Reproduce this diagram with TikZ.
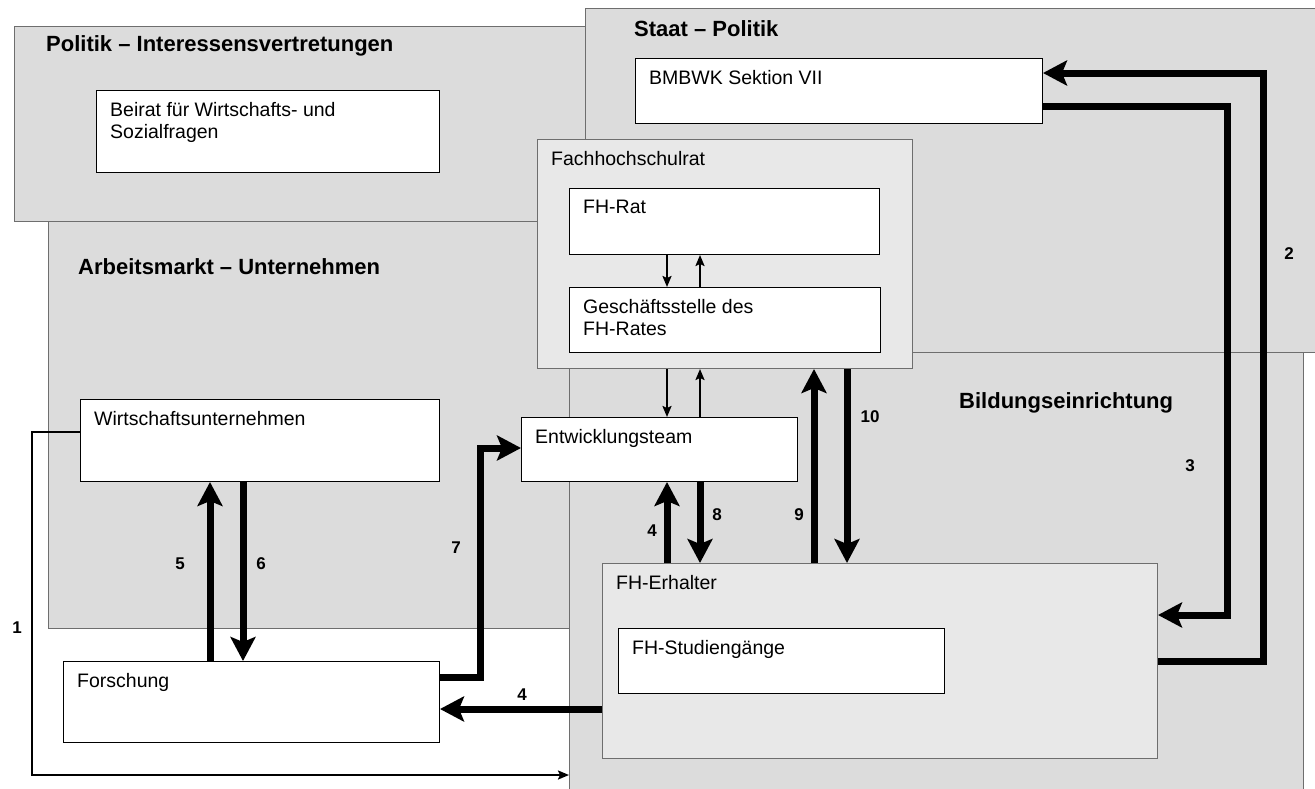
\documentclass[tikz,border=0pt]{standalone}
\usepackage{fontspec}
\setmainfont{Liberation Sans}
\usetikzlibrary{arrows.meta}

\definecolor{areagray}{HTML}{DCDCDC}
\definecolor{groupgray}{HTML}{E8E8E8}
\definecolor{arealine}{HTML}{6E6E6E}

\newcommand\boxfont{\fontsize{19.5pt}{22.5pt}\selectfont}
\newcommand\areafont{\fontsize{22pt}{26pt}\selectfont\bfseries}
\newcommand\numfont{\fontsize{17pt}{20pt}\selectfont\bfseries}

\tikzset{
  area/.style={draw=arealine, fill=areagray, line width=1.2pt, anchor=north west, inner sep=0pt},
  unit/.style={draw, fill=white, line width=1pt, anchor=north west, inner sep=0pt},
  group/.style={unit, draw=arealine, fill=groupgray},
  boxtext/.style={anchor=north west, inner xsep=14pt, inner ysep=12pt, align=left, font=\boxfont},
  areatitle/.style={anchor=west, font=\areafont, inner sep=0pt},
  num/.style={font=\numfont, inner sep=0pt},
  fat/.style={line width=7pt, -{Stealth[length=24pt,width=25pt,inset=5pt]}},
  slim/.style={line width=2pt, -{Stealth[length=11pt,width=9pt,inset=2pt]}},
}

\begin{document}
\begin{tikzpicture}[x=1pt, y=-1pt]
  \useasboundingbox (0,0) rectangle (1315,788);

  % areas
  \node[area, minimum width=530pt, minimum height=478pt] (amarkt) at (48,150) {};
  \node[area, minimum width=590pt, minimum height=195pt] (politik) at (14,26) {};
  \node[area, minimum width=800pt, minimum height=344pt] (staat) at (585,8) {};
  \node[area, minimum width=734pt, minimum height=450pt] (bildung) at (569,352) {};

  \node[areatitle] (politik-t) at (46,46) {Politik – Interessensvertretungen};
  \node[areatitle] (amarkt-t) at (78,267) {Arbeitsmarkt – Unternehmen};
  \node[areatitle] (staat-t) at (634,29) {Staat – Politik};
  \node[areatitle] (bildung-t) at (959,403) {Bildungseinrichtung};

  % boxes
  \node[unit, minimum width=343pt, minimum height=82pt,
    label={[boxtext]north west:{Beirat für Wirtschafts- und\\Sozialfragen}}] (beirat) at (96,90) {};
  \node[unit, minimum width=407pt, minimum height=65pt,
    label={[boxtext]north west:BMBWK Sektion VII}] (bmbwk) at (635,58) {};
  \node[group, minimum width=375pt, minimum height=229pt,
    label={[boxtext]north west:Fachhochschulrat}] (fhr) at (537,139) {};
  \node[unit, minimum width=310pt, minimum height=66pt,
    label={[boxtext]north west:FH-Rat}] (fhrat) at (569,188) {};
  \node[unit, minimum width=311pt, minimum height=65pt,
    label={[boxtext]north west:{Geschäftsstelle des\\FH-Rates}}] (gstelle) at (569,287) {};
  \node[unit, minimum width=276pt, minimum height=64pt,
    label={[boxtext]north west:Entwicklungsteam}] (entw) at (521,417) {};
  \node[unit, minimum width=359pt, minimum height=82pt,
    label={[boxtext]north west:Wirtschaftsunternehmen}] (wirt) at (80,399) {};
  \node[unit, minimum width=376pt, minimum height=81pt,
    label={[boxtext]north west:Forschung}] (forsch) at (63,661) {};
  \node[group, minimum width=555pt, minimum height=195pt,
    label={[boxtext]north west:FH-Erhalter}] (erhalter) at (602,563) {};
  \node[unit, minimum width=326pt, minimum height=65pt,
    label={[boxtext]north west:FH-Studiengänge}] (studien) at (618,628) {};

  % flows
  \draw[slim] (wirt.west |- 0,432) -| (32,775) -- (bildung.west |- 0,775);
  \draw[fat] (erhalter.east |- 0,661) -| (1263,73) -- (bmbwk.east |- 0,73);
  \draw[fat] (bmbwk.east |- 0,106) -| (1227,615) -- (erhalter.east |- 0,615);
  \draw[fat] (erhalter.north -| 667,0) -- (entw.south -| 667,0);
  \draw[fat] (erhalter.west |- 0,709) -- (forsch.east |- 0,709);
  \draw[fat] (forsch.north -| 210,0) -- (wirt.south -| 210,0);
  \draw[fat] (wirt.south -| 243,0) -- (forsch.north -| 243,0);
  \draw[fat] (forsch.east |- 0,677) -| (480,448) -- (entw.west |- 0,448);
  \draw[fat] (entw.south -| 700,0) -- (erhalter.north -| 700,0);
  \draw[fat] (erhalter.north -| 814,0) -- (fhr.south -| 814,0);
  \draw[fat] (fhr.south -| 847,0) -- (erhalter.north -| 847,0);
  \draw[slim] (fhr.south -| 667,0) -- (entw.north -| 667,0);
  \draw[slim] (entw.north -| 700,0) -- (fhr.south -| 700,0);
  \draw[slim] (fhrat.south -| 667,0) -- (gstelle.north -| 667,0);
  \draw[slim] (gstelle.north -| 700,0) -- (fhrat.south -| 700,0);

  % numbers
  \node[num] (n1) at (17,628) {1};
  \node[num] (n2) at (1289,254) {2};
  \node[num] (n3) at (1190,466) {3};
  \node[num] (n4a) at (652,531) {4};
  \node[num] (n4b) at (522,695) {4};
  \node[num] (n5) at (180,564) {5};
  \node[num] (n6) at (261,564) {6};
  \node[num] (n7) at (456,548) {7};
  \node[num] (n8) at (717,515) {8};
  \node[num] (n9) at (799,515) {9};
  \node[num] (n10) at (870,417) {10};
\end{tikzpicture}
\end{document}
